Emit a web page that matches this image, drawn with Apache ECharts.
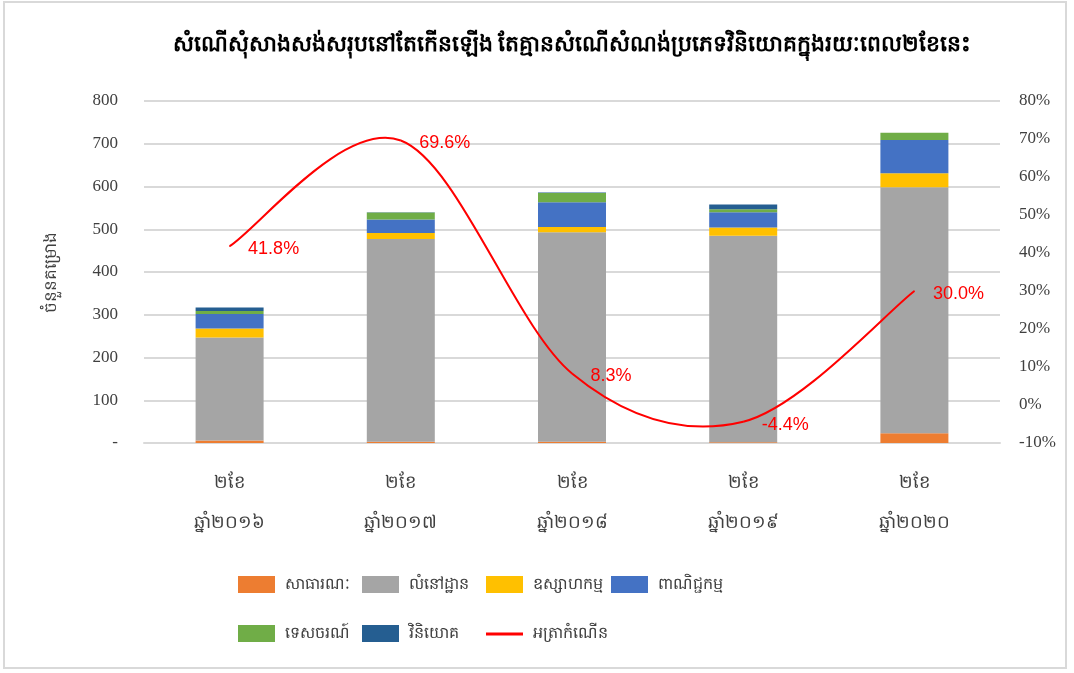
<!DOCTYPE html>
<html>
<head>
<meta charset="utf-8">
<script src="https://cdn.jsdelivr.net/npm/echarts@6/dist/echarts.min.js"></script>
<style>
html,body{margin:0;padding:0;background:#fff;}
#c{width:1074px;height:673px;}
</style>
</head>
<body>
<div id="c"></div>
<script>
const categories = ['២ខែ\nឆ្នាំ២០១៦','២ខែ\nឆ្នាំ២០១៧','២ខែ\nឆ្នាំ២០១៨','២ខែ\nឆ្នាំ២០១៩','២ខែ\nឆ្នាំ២០២០'];
const seriesNames = ['សាធារណៈ','លំនៅដ្ឋាន','ឧស្សាហកម្ម','ពាណិជ្ជកម្ម','ទេសចរណ៍','វិនិយោគ'];
const publicVals     = [6, 3, 3, 2, 23];
const residentialVals= [241, 474, 490, 483, 575];
const industryVals   = [21, 14, 12, 19, 33];
const commerceVals   = [34, 32, 58, 36, 78];
const tourismVals    = [7, 16, 22, 7, 17];
const investmentVals = [8, 1, 1, 11, 0];
const growthName = 'អត្រាកំណើន';
const growthVals = [41.8, 69.6, 8.3, -4.4, 30.0];
const leftTicks = {min: 0, max: 800, interval: 100};
const rightTicks = {min: -10, max: 80, interval: 10};

const colors = ['#ED7D31','#A5A5A5','#FFC000','#4472C4','#70AD47','#255E91'];
const barData = [publicVals, residentialVals, industryVals, commerceVals, tourismVals, investmentVals];

const chart = echarts.init(document.getElementById('c'), null, {renderer:'canvas'});

const barSeries = seriesNames.map((n,i)=>({
  name:n, type:'bar', stack:'total', barWidth:68,
  itemStyle:{color:colors[i]}, data:barData[i], yAxisIndex:0
}));

const legendText = {fontSize:16, color:'#404040', fontFamily:'Liberation Serif', padding:[0,0,0,5]};
const legendPos = [
  {name:seriesNames[0], left:233, top:571},
  {name:seriesNames[1], left:357, top:571},
  {name:seriesNames[2], left:481, top:571},
  {name:seriesNames[3], left:606, top:571},
  {name:seriesNames[4], left:233, top:620},
  {name:seriesNames[5], left:357, top:620}
];
const legends = legendPos.map(p=>({
  data:[p.name], left:p.left, top:p.top, itemWidth:37, itemHeight:17, icon:'rect',
  textStyle:legendText, selectedMode:false
}));
legends.push({
  data:[{name:growthName, icon:'rect'}], left:481, top:621, itemWidth:37, itemHeight:3,
  textStyle:legendText, selectedMode:false
});

// Excel-style smoothed curve (Catmull-Rom -> cubic Bezier) drawn through the axes' coord()
function renderCurve(params, api){
  if (params.dataIndex !== 0) return null;
  const pts = growthVals.map((v,i)=>api.coord([i, v]));
  const children = [];
  for (let i=0;i<pts.length-1;i++){
    const p0 = pts[Math.max(i-1,0)], p1 = pts[i], p2 = pts[i+1], p3 = pts[Math.min(i+2,pts.length-1)];
    children.push({
      type:'bezierCurve',
      shape:{
        x1:p1[0], y1:p1[1],
        cpx1:p1[0]+(p2[0]-p0[0])/6, cpy1:p1[1]+(p2[1]-p0[1])/6,
        cpx2:p2[0]-(p3[0]-p1[0])/6, cpy2:p2[1]-(p3[1]-p1[1])/6,
        x2:p2[0], y2:p2[1]
      },
      style:{stroke:'#FF0000', lineWidth:2, fill:null}
    });
  }
  return {type:'group', children};
}

chart.setOption({
  animation:false,
  title:{
    text:'សំណើសុំសាងសង់សរុបនៅតែកើនឡើង តែគ្មានសំណើសំណង់ប្រភេទវិនិយោគក្នុងរយៈពេល២ខែនេះ',
    left:567, top:29, textAlign:'center',
    textStyle:{fontSize:22, fontWeight:'bold', color:'#000', fontFamily:'Liberation Serif'}
  },
  legend:legends,
  graphic:[{type:'rect', shape:{x:4, y:2, width:1062, height:666}, style:{fill:'none', stroke:'#d9d9d9', lineWidth:2}, silent:true}],
  grid:{left:144, right:74, top:101, bottom:230},
  xAxis:{
    type:'category', data:categories,
    axisLine:{show:true, lineStyle:{color:'#d9d9d9', width:2}},
    axisTick:{show:false},
    axisLabel:{interval:0, fontSize:18, lineHeight:40, margin:20, color:'#404040', fontFamily:'Liberation Serif'}
  },
  yAxis:[
    {
      type:'value', min:leftTicks.min, max:leftTicks.max, interval:leftTicks.interval,
      name:'ចំនួនគម្រោង', nameLocation:'middle', nameGap:84, nameRotate:90,
      nameTextStyle:{fontSize:17, color:'#404040', fontFamily:'Liberation Serif'},
      axisLine:{show:false}, axisTick:{show:false},
      splitLine:{lineStyle:{color:'#d9d9d9', width:2}},
      axisLabel:{fontSize:17, color:'#404040', margin:26, fontFamily:'Liberation Serif',
        formatter:v=> v===0 ? '-' : String(v)}
    },
    {
      type:'value', min:rightTicks.min, max:rightTicks.max, interval:rightTicks.interval,
      axisLine:{show:false}, axisTick:{show:false}, splitLine:{show:false},
      axisLabel:{fontSize:17, color:'#404040', margin:19, fontFamily:'Liberation Serif',
        formatter:'{value}%'}
    }
  ],
  series:[...barSeries, {
    name:growthName, type:'line', yAxisIndex:1, data:growthVals,
    symbol:'circle', symbolSize:1, showSymbol:true,
    itemStyle:{color:'#FF0000'},
    lineStyle:{color:'#FF0000', width:0, opacity:0},
    label:{show:true, position:'right', distance:18, fontSize:18, color:'#FF0000',
      fontFamily:'Liberation Sans', offset:[0,3], formatter:p=>p.value.toFixed(1)+'%'},
    z:11
  }, {
    name:'curve', type:'custom', yAxisIndex:1, xAxisIndex:0,
    data:growthVals.map((v,i)=>[i,v]),
    renderItem:renderCurve, z:10, silent:true
  }]
});
</script>
</body>
</html>
